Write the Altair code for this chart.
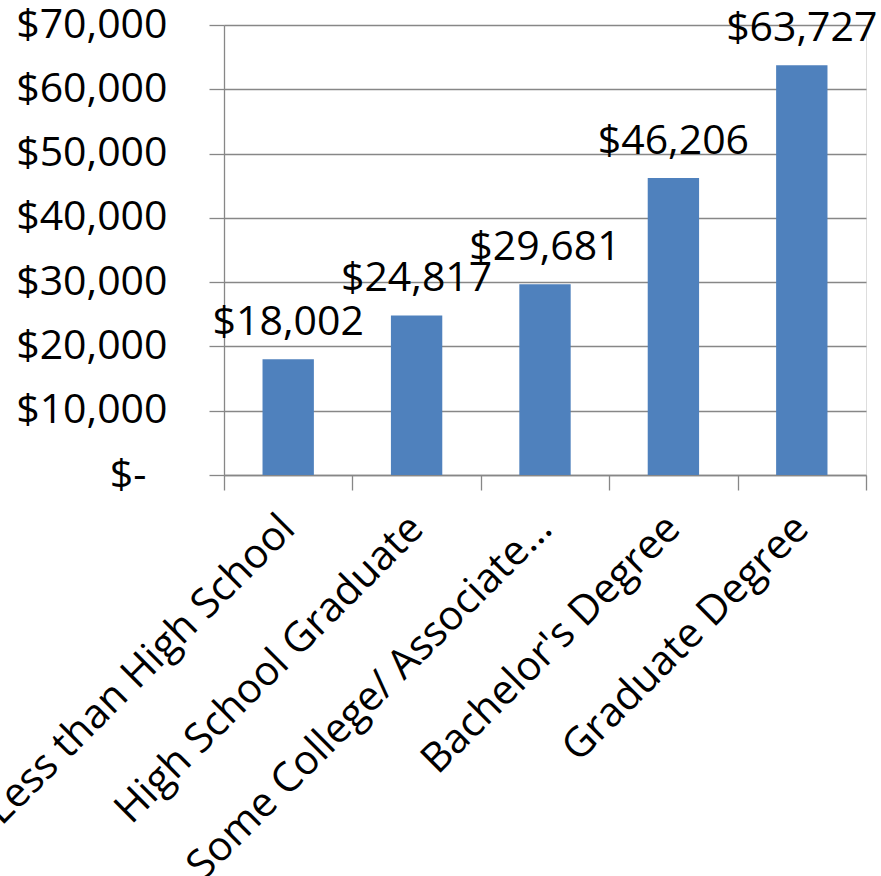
import altair as alt
import pandas as pd

categories = [
    "Less than High School",
    "High School Graduate",
    "Some College/ Associate…",
    "Bachelor's Degree",
    "Graduate Degree",
]
earnings = [18002, 24817, 29681, 46206, 63727]
value_labels = ["$18,002", "$24,817", "$29,681", "$46,206", "$63,727"]

df = pd.DataFrame({"cat": categories, "val": earnings, "lbl": value_labels})

FONT = "Open Sans"
GRID = "#878787"

x = alt.X(
    "cat:N",
    sort=categories,
    scale=alt.Scale(paddingInner=0, paddingOuter=0),
    axis=alt.Axis(
        title=None,
        labelAngle=-45,
        labelAlign="right",
        labelBaseline="middle",
        labelFont=FONT,
        labelFontSize=41,
        labelColor="#000000",
        labelPadding=32,
        labelLimit=600,
        tickBand="extent",
        tickSize=15,
        tickColor=GRID,
        tickWidth=1.3,
        domainColor=GRID,
        domainWidth=1.3,
        grid=False,
    ),
)

y = alt.Y(
    "val:Q",
    scale=alt.Scale(domain=[0, 70000], nice=False),
    axis=alt.Axis(
        title=None,
        values=[0, 10000, 20000, 30000, 40000, 50000, 60000, 70000],
        labelExpr="datum.value == 0 ? '$-' : '$' + format(datum.value, ',')",
        labelFont=FONT,
        labelFontSize=41,
        labelColor="#000000",
        labelPadding={"condition": {"test": "datum.value == 0", "value": 63}, "value": 42},
        tickSize=15,
        tickColor=GRID,
        tickWidth=1.3,
        domainColor=GRID,
        domainWidth=1.3,
        grid=True,
        gridColor=GRID,
        gridWidth=1.3,
    ),
)

bars = alt.Chart(df).mark_bar(
    color="#4F81BD", width=alt.RelativeBandSize(0.4)
).encode(x=x, y=y)

labels = alt.Chart(df).mark_text(
    font=FONT, fontSize=41, color="#000000", baseline="alphabetic", dy=-24
).encode(x=alt.X("cat:N", sort=categories), y="val:Q", text="lbl:N")

chart = (
    alt.layer(bars, labels)
    .properties(
        width=642,
        height=450,
        autosize=alt.AutoSizeParams(type="none"),
        padding={"left": 224, "top": 25, "right": 15, "bottom": 401},
    )
    .configure_view(stroke=None)
    .configure(background="white")
)

chart.save("out.html", embed_options={"renderer": "svg", "actions": False})
